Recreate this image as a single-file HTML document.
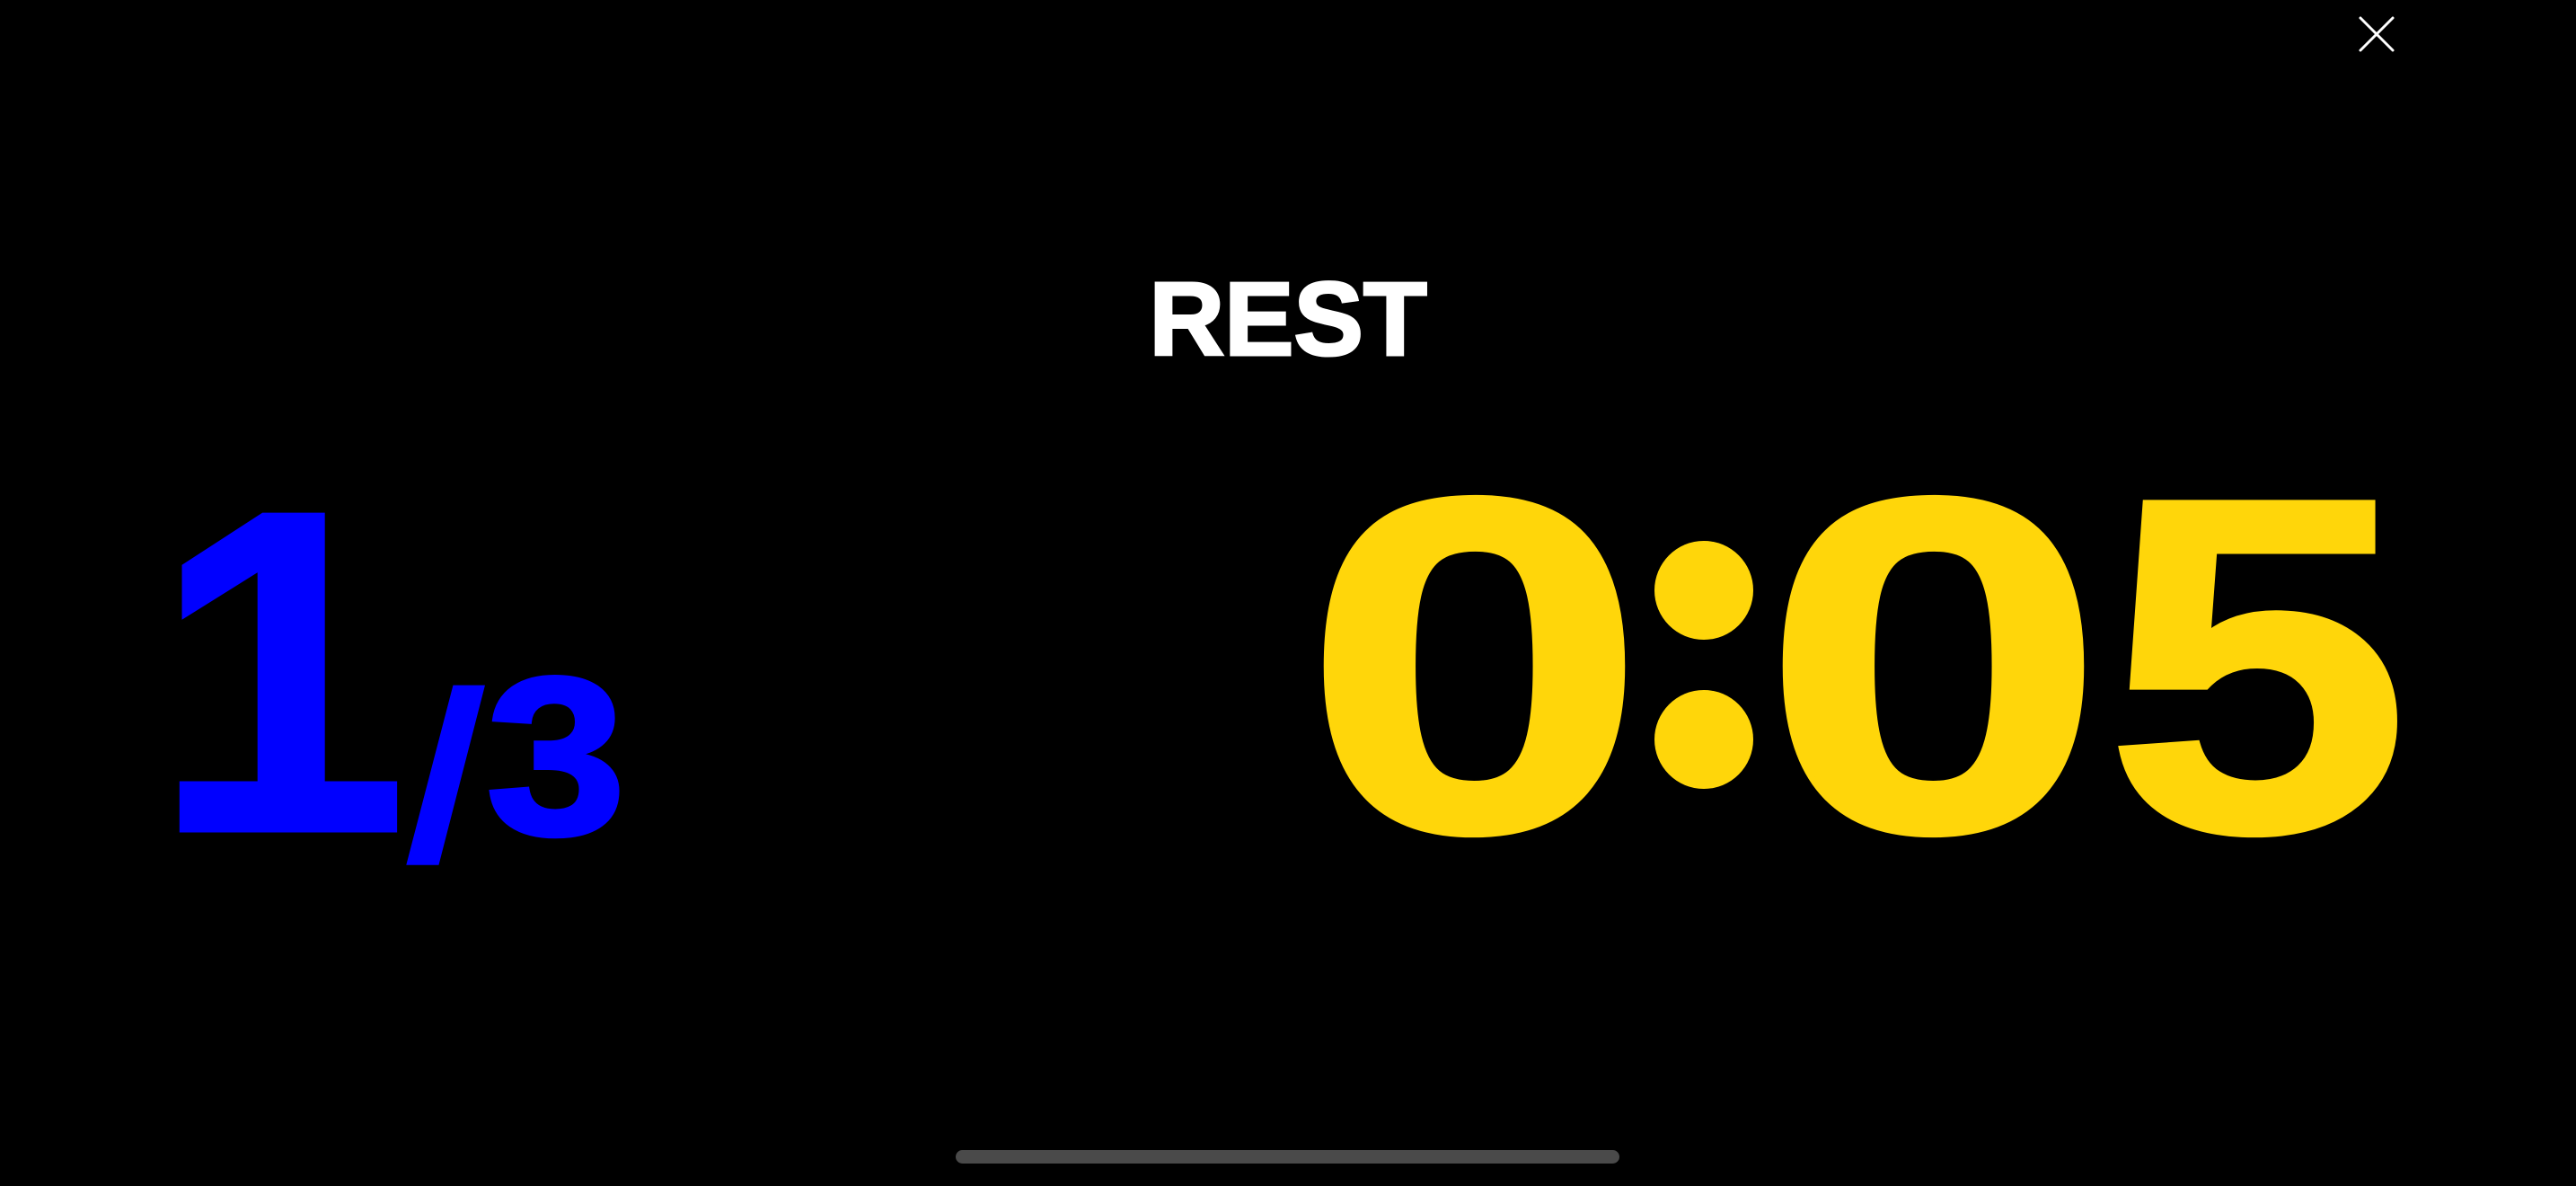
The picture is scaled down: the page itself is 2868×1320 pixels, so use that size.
<!DOCTYPE html>
<html>
<head>
<meta charset="utf-8">
<style>
  html,body{margin:0;padding:0;background:#000;}
  #screen{position:relative;width:2868px;height:1320px;background:#000;overflow:hidden;
    font-family:"Liberation Sans",sans-serif;font-weight:bold;}
  .g{position:absolute;text-align:center;white-space:nowrap;}
  .y{color:#FFD60A;font-size:530px;line-height:530px;width:400px;-webkit-text-stroke:6px #FFD60A;}
  .b{color:#0000FF;-webkit-text-stroke:5px #0000FF;}
  .dot{position:absolute;width:110px;height:110px;border-radius:50%;background:#FFD60A;}
</style>
</head>
<body>
<div id="screen">
  <svg style="position:absolute;left:2624px;top:16px" width="44" height="44" viewBox="0 0 44 44">
    <line x1="4" y1="4" x2="40" y2="40" stroke="#fff" stroke-width="3" stroke-linecap="round"/>
    <line x1="40" y1="4" x2="4" y2="40" stroke="#fff" stroke-width="3" stroke-linecap="round"/>
  </svg>

  <div class="g"
       style="left:1134px;top:297px;width:600px;font-size:116px;line-height:116px;color:#fff;-webkit-text-stroke:3px #fff;">REST</div>

  <div class="g b"
       style="left:112px;top:493px;width:400px;font-size:510px;line-height:510px;">1</div>
  <div class="g b"
       style="left:396px;top:734px;width:200px;font-size:262px;line-height:262px;transform:skewX(-4deg);">/</div>
  <div class="g b"
       style="left:519px;top:717px;width:200px;font-size:250px;line-height:250px;transform:scaleX(1.12);">3</div>

  <div class="g y" style="left:1442px;top:476px;transform:scaleX(1.3);">0</div>
  <div class="g y" style="left:1697px;top:470px;color:transparent;-webkit-text-stroke:0;">:</div>
  <div class="dot" style="left:1842px;top:602px;"></div>
  <div class="dot" style="left:1842px;top:768px;"></div>
  <div class="g y" style="left:1953px;top:476px;transform:scaleX(1.3);">0</div>
  <div class="g y" style="left:2313px;top:476px;transform:scaleX(1.15);">5</div>

  <div
       style="position:absolute;left:1064px;top:1280px;width:739px;height:15px;border-radius:8px;background:#4a4a4a;"></div>
</div>
</body>
</html>
